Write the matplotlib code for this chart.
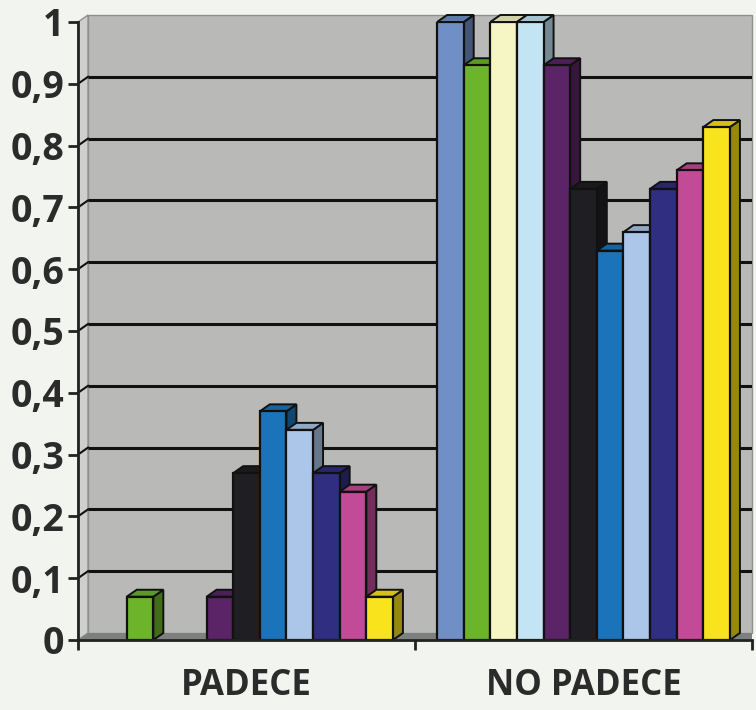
import matplotlib
matplotlib.use('Agg')
import matplotlib.pyplot as plt
from matplotlib.patches import Polygon
from matplotlib.ticker import FixedLocator, FuncFormatter
import matplotlib.colors as mcolors
import numpy as np

# data
categories = ['PADECE', 'NO PADECE']
padece = [0.0, 0.07, 0.0, 0.0, 0.07, 0.27, 0.37, 0.34, 0.27, 0.24, 0.07]
no_padece = [1.0, 0.93, 1.0, 1.0, 0.93, 0.73, 0.63, 0.66, 0.73, 0.76, 0.83]
series_colors = ['#6f8fc6', '#6cb52b', '#f6f6c4', '#c2e4f3', '#5a2466', '#1f1f23',
                 '#1b74ba', '#abc6e8', '#2f2e80', '#c14b96', '#f8e31c']
yticks = [0, 0.1, 0.2, 0.3, 0.4, 0.5, 0.6, 0.7, 0.8, 0.9, 1]

plt.rcParams['font.family'] = ['Open Sans', 'DejaVu Sans']

fig = plt.figure(figsize=(7.56, 7.10), dpi=100, facecolor='#f2f5ef')
ax = fig.add_axes([78 / 756, 1 - 640 / 710, 674 / 756, 618 / 710])
ax.set_facecolor('#f2f5ef')
ax.set_xlim(-0.5, 1.5)
ax.set_ylim(0, 1)

# depth of the fake 3d, in data units
dx = 10 / 337
dy = 7 / 618

# walls
back = Polygon([(-0.5 + dx, dy), (1.5, dy), (1.5, 1 + dy), (-0.5 + dx, 1 + dy)],
               facecolor='#b9b9b7', edgecolor='#8f8f8f', lw=1, zorder=0, clip_on=False)
ax.add_patch(back)
side = Polygon([(-0.5, 0), (-0.5 + dx, dy), (-0.5 + dx, 1 + dy), (-0.5, 1)],
               facecolor='#cfd0cd', edgecolor='#8f8f8f', lw=1, zorder=0, clip_on=False)
ax.add_patch(side)
floor = Polygon([(-0.5, 0), (1.5, 0), (1.5, dy), (-0.5 + dx, dy)],
                facecolor='#7d807e', edgecolor='none', zorder=0.5, clip_on=False)
ax.add_patch(floor)

for v in yticks[1:-1]:
    ax.plot([-0.5 + dx, 1.5], [v + dy, v + dy], color='#111111', lw=2.2, zorder=1,
            solid_capstyle='butt')
    ax.plot([-0.5, -0.5 + dx], [v, v + dy], color='#111111', lw=1.5, zorder=1)

# bars
n = len(padece)
width = 0.079
offsets = (np.arange(n) - (n - 1) / 2) * width


def darker(c, f):
    r, g, b = mcolors.to_rgb(c)
    return (r * f, g * f, b * f)


z = 2
for ci, vals in enumerate([padece, no_padece]):
    for i in range(n):
        h = vals[i]
        if h <= 0:
            continue
        x0 = ci + offsets[i] - width / 2
        x1 = x0 + width
        col = series_colors[i]
        ax.add_patch(Polygon([(x1, 0), (x1 + dx, dy), (x1 + dx, h + dy), (x1, h)],
                             facecolor=darker(col, 0.6), edgecolor='#111111', lw=1.4,
                             zorder=z, clip_on=False))
        ax.add_patch(Polygon([(x0, h), (x1, h), (x1 + dx, h + dy), (x0 + dx, h + dy)],
                             facecolor=darker(col, 0.85), edgecolor='#111111', lw=1.4,
                             zorder=z, clip_on=False))
        ax.bar(x0, h, width=width, align='edge', color=col, edgecolor='#111111',
               linewidth=1.6, zorder=z + 0.1)
        z += 0.2

# axes
for s in ['top', 'right']:
    ax.spines[s].set_visible(False)
ax.spines['left'].set_linewidth(2)
ax.spines['bottom'].set_linewidth(2)
ax.spines['left'].set_color('#222222')
ax.spines['bottom'].set_color('#222222')
ax.spines['left'].set_zorder(10)
ax.spines['bottom'].set_zorder(10)

ax.yaxis.set_major_locator(FixedLocator(yticks))
ax.yaxis.set_major_formatter(FuncFormatter(lambda v, p: ('%g' % v).replace('.', ',')))
ax.tick_params(axis='y', length=7, width=2, color='#222222', pad=3,
               labelsize=27, labelcolor='#2b2b2b')
for t in ax.get_yticklabels():
    t.set_fontweight('bold')

ax.set_xticks([0, 1])
ax.set_xticklabels(categories, fontsize=25, fontweight='bold', color='#2b2b2b')
ax.set_xticks([-0.5, 0.5, 1.5], minor=True)
ax.tick_params(axis='x', which='major', length=0, pad=20)
ax.tick_params(axis='x', which='minor', length=7, width=2, color='#222222')

fig.savefig('out.png', dpi=100, facecolor=fig.get_facecolor())
